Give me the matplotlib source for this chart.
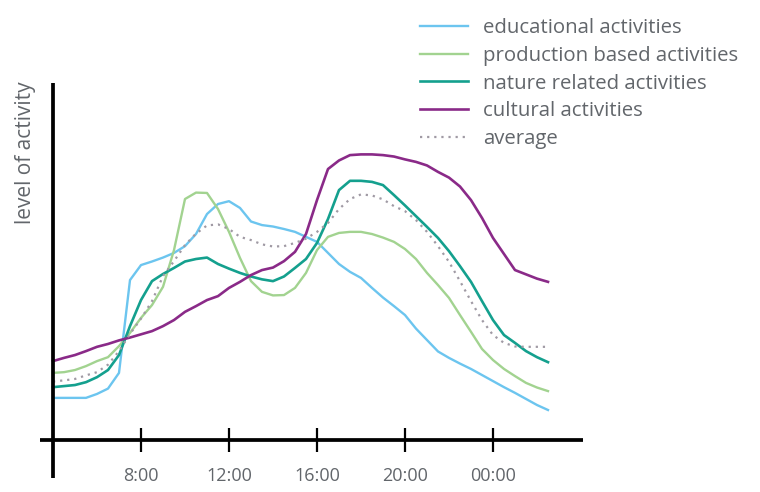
import matplotlib
matplotlib.use("Agg")
import matplotlib.pyplot as plt
import numpy as np

plt.rcParams['font.family'] = ['Open Sans', 'DejaVu Sans']

# Hour of day (values past 24 continue into the next night)
hours = np.arange(4.0, 26.51, 0.5)

educational = [11.8, 11.8, 11.8, 11.8, 12.9, 14.4, 18.8, 44.8, 49.0, 50.0,
               51.1, 52.4, 54.3, 57.7, 63.3, 66.1, 66.9, 65.0, 61.2, 60.2,
               59.8, 59.1, 58.3, 56.9, 55.5, 52.4, 49.3, 47.1, 45.4, 42.6,
               39.9, 37.5, 35.0, 31.2, 28.0, 24.8, 23.0, 21.4, 19.9, 18.2,
               16.5, 14.8, 13.2, 11.5, 9.8, 8.4]
production = [18.8, 19.0, 19.6, 20.7, 22.1, 23.2, 26.3, 30.0, 34.2, 37.8,
              42.9, 53.2, 67.5, 69.3, 69.2, 64.7, 58.3, 51.0, 44.5, 41.5,
              40.5, 40.6, 42.6, 46.8, 53.2, 56.9, 58.0, 58.3, 58.3, 57.7,
              56.7, 55.5, 53.5, 50.7, 46.8, 43.4, 39.8, 35.0, 30.3, 25.5,
              22.4, 19.9, 17.9, 16.0, 14.7, 13.7]
nature = [14.8, 15.1, 15.4, 16.2, 17.6, 19.6, 23.8, 31.9, 39.2, 44.5,
          46.5, 48.2, 50.0, 50.7, 51.1, 49.3, 48.0, 46.8, 45.8, 45.0,
          44.5, 45.8, 48.2, 50.7, 55.2, 61.9, 70.0, 72.6, 72.6, 72.3,
          71.4, 68.6, 65.7, 62.7, 59.7, 56.6, 52.9, 48.7, 44.3, 38.9,
          33.6, 29.4, 27.2, 24.9, 23.2, 21.8]
cultural = [22.1, 23.0, 23.8, 24.9, 26.1, 26.9, 27.9, 28.7, 29.6, 30.5,
            31.9, 33.6, 35.9, 37.5, 39.2, 40.3, 42.6, 44.3, 46.2, 47.6,
            48.3, 50.1, 52.7, 57.7, 67.2, 75.9, 78.3, 79.8, 80.0, 80.0,
            79.8, 79.4, 78.6, 77.9, 76.9, 75.1, 73.5, 71.0, 67.2, 62.2,
            56.6, 52.1, 47.6, 46.4, 45.2, 44.3]
average = [16.4, 16.7, 17.1, 18.1, 19.0, 21.1, 24.9, 29.7, 34.0, 38.9,
           45.9, 50.1, 54.6, 57.8, 60.1, 60.4, 59.1, 56.9, 56.0, 54.8,
           54.2, 54.3, 55.2, 56.4, 58.3, 60.8, 64.7, 67.5, 68.8, 68.5,
           67.4, 65.5, 64.1, 61.6, 58.3, 54.3, 49.9, 44.5, 38.9, 33.6,
           29.4, 27.2, 26.2, 26.1, 26.1, 26.1]

tick_hours = [8, 12, 16, 20, 24]
tick_labels = ["8:00", "12:00", "16:00", "20:00", "00:00"]

text_color = "#62666b"

fig = plt.figure(figsize=(7.6, 4.92), dpi=100)
ax = fig.add_axes([40 / 760, 14 / 492, 543 / 760, 395 / 492])

ax.plot(hours, educational, color="#6cc5ef", lw=1.7, label="educational activities")
ax.plot(hours, production, color="#a2d390", lw=1.7, label="production based activities")
ax.plot(hours, nature, color="#14a08e", lw=1.9, label="nature related activities")
ax.plot(hours, cultural, color="#8a2a88", lw=1.9, label="cultural activities")
ax.plot(hours, average, color="#a09aa4", lw=1.6, linestyle=(0, (1, 2.2)),
        label="average")

ax.set_xlim(8 - 101 / 22, 8 + 442 / 22)
ax.set_ylim(-38 / 3.57, 100)

for side in ("top", "right"):
    ax.spines[side].set_visible(False)
ax.spines["left"].set_position(("data", hours[0]))
ax.spines["bottom"].set_position(("data", 0))
for side in ("left", "bottom"):
    ax.spines[side].set_linewidth(2.7)
    ax.spines[side].set_color("black")
    ax.spines[side].set_capstyle("butt")

ax.set_yticks([])
ax.set_xticks(tick_hours)
ax.set_xticklabels(tick_labels)
ax.tick_params(axis="x", direction="inout", length=17, width=1.6,
               color="black", pad=11, labelsize=13, labelcolor=text_color)

fig.text(26 / 760, 1 - 153 / 492, "level of activity", rotation=90,
         ha="center", va="center", fontsize=15, color=text_color)

fig.legend(loc="upper left", bbox_to_anchor=(420 / 760, 1 - 18 / 492),
           frameon=False, fontsize=14.7, handlelength=2.35,
           handletextpad=0.73, labelspacing=0.38, borderpad=0,
           borderaxespad=0, labelcolor=text_color)

fig.savefig("out.png", dpi=100)
